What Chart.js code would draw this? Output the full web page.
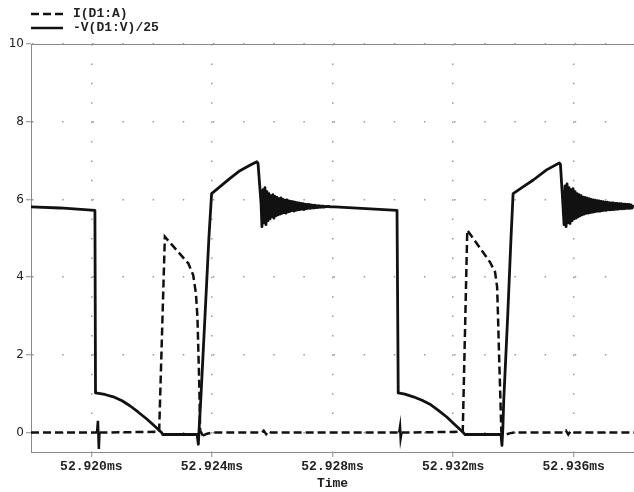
<!DOCTYPE html>
<html>
<head>
<meta charset="utf-8">
<script src="https://cdn.jsdelivr.net/npm/chart.js@4.4.0/dist/chart.umd.min.js"></script>
<style>
  html, body { margin: 0; padding: 0; background: #fff; }
  #wrap { width: 634px; height: 492px; }
</style>
</head>
<body>
<div id="wrap"><canvas id="scopeChart" width="634" height="492"></canvas></div>
<script>
// time axis is in microseconds, labelled in ms
const xTicks = [52920, 52924, 52928, 52932, 52936];
const xTickLabels = ['52.920ms', '52.924ms', '52.928ms', '52.932ms', '52.936ms'];
const yTicks = [0, 2, 4, 6, 8, 10];

// I(D1:A) - dashed trace
const currentTimes = [52918.00, 52920.19, 52920.22, 52920.25, 52920.27, 52922.25, 52922.44, 52923.22, 52923.38, 52923.47,
  52923.52, 52923.55, 52923.58, 52923.61, 52923.70, 52923.84, 52924.00, 52925.66, 52925.72, 52925.80,
  52925.88, 52925.96, 52930.21, 52930.24, 52930.26, 52930.29, 52932.32, 52932.47, 52933.22, 52933.39,
  52933.46, 52933.49, 52933.52, 52933.57, 52933.60, 52933.71, 52933.87, 52934.02, 52935.66, 52935.74,
  52935.82, 52935.90, 52935.98, 52938.00];
const currentValues = [0, 0, 0.3, -0.42, 0, 0.02, 5.04, 4.35, 4.05, 3.58,
  2.98, 2.12, 1.27, 0.05, -0.08, -0.03, 0, 0, 0.05, -0.04,
  0.04, 0, 0, 0.15, -0.14, 0, 0.02, 5.21, 4.39, 4.14,
  3.75, 2.98, 2.12, 0.83, 0.02, -0.06, -0.02, 0, 0, 0.05,
  -0.05, 0.04, 0, 0];

// -V(D1:V)/25 - solid trace, first part up to the first ringing
const voltTimesA = [52918.00, 52918.96, 52920.12, 52920.14, 52920.45, 52920.73, 52921.02, 52921.28, 52921.55, 52921.84,
  52922.08, 52922.33, 52922.37, 52923.51, 52923.55, 52923.58, 52923.63, 52923.77, 52923.90, 52923.99,
  52924.27, 52924.60, 52924.93, 52925.26, 52925.49, 52925.53, 52925.63];
const voltValuesA = [5.81, 5.78, 5.72, 1.02, 0.98, 0.92, 0.82, 0.69, 0.53, 0.35,
  0.18, 0.0, -0.05, -0.05, -0.3, 0.15, 0.83, 2.98, 5.0, 6.15,
  6.33, 6.54, 6.74, 6.88, 6.97, 6.93, 5.9];
// between the two ringings
const voltTimesB = [52928.08, 52930.14, 52930.18, 52930.40, 52930.68, 52930.97, 52931.23, 52931.50, 52931.79, 52932.06,
  52932.34, 52932.39, 52933.59, 52933.62, 52933.65, 52933.68, 52933.81, 52933.92, 52933.99, 52934.33,
  52934.66, 52935.10, 52935.52, 52935.56, 52935.64];
const voltValuesB = [5.81, 5.72, 1.02, 0.99, 0.92, 0.83, 0.73, 0.58, 0.40, 0.20,
  0.0, -0.05, -0.05, -0.33, 0.1, 0.83, 2.98, 5.0, 6.15, 6.33,
  6.50, 6.76, 6.94, 6.90, 5.9];

// ringing after the voltage step, one sample every ringStep us
const ringStep = 0.0332;
const ring1Start = 52925.66;
const ring1 = [5.30, 6.25, 5.40, 6.30, 5.35, 6.20, 5.45, 6.15, 5.50, 6.10,
  5.55, 6.12, 5.52, 6.08, 5.58, 6.05, 5.60, 6.02, 5.62, 6.04,
  5.64, 6.00, 5.66, 5.98, 5.65, 5.99, 5.68, 5.96, 5.69, 5.95,
  5.71, 5.94, 5.70, 5.93, 5.72, 5.92, 5.73, 5.91, 5.74, 5.90,
  5.75, 5.89, 5.74, 5.88, 5.76, 5.87, 5.77, 5.87, 5.77, 5.86,
  5.78, 5.85, 5.78, 5.85, 5.79, 5.84, 5.79, 5.84, 5.80, 5.83,
  5.80, 5.83, 5.80, 5.82, 5.81, 5.82, 5.81, 5.82, 5.81, 5.81];
const ring2Start = 52935.68;
const ring2 = [5.35, 6.35, 5.30, 6.40, 5.40, 6.30, 5.38, 6.25, 5.45, 6.28,
  5.50, 6.20, 5.52, 6.15, 5.55, 6.12, 5.58, 6.10, 5.60, 6.06,
  5.62, 6.05, 5.64, 6.03, 5.65, 6.02, 5.66, 6.00, 5.67, 5.99,
  5.68, 5.98, 5.69, 5.97, 5.70, 5.96, 5.70, 5.95, 5.71, 5.94,
  5.72, 5.93, 5.72, 5.93, 5.73, 5.92, 5.73, 5.91, 5.74, 5.91,
  5.74, 5.90, 5.75, 5.90, 5.75, 5.89, 5.76, 5.89, 5.76, 5.88,
  5.76, 5.88, 5.77, 5.87, 5.77, 5.87, 5.77, 5.86, 5.78, 5.86];

const toPoints = (ts, vs) => ts.map((t, i) => ({ x: t, y: vs[i] }));
const ringPoints = (start, vs) => vs.map((v, i) => ({ x: start + i * ringStep, y: v }));

const currentData = toPoints(currentTimes, currentValues);
const voltageData = [].concat(
  toPoints(voltTimesA, voltValuesA),
  ringPoints(ring1Start, ring1),
  toPoints(voltTimesB, voltValuesB),
  ringPoints(ring2Start, ring2)
);

const monoFont = { family: '"Liberation Mono", "Courier New", monospace', size: 13, weight: 'bold' };
const currentDash = [8, 4];

// short glitches around zero show as solid strokes on the scope plot
const glitchDash = c => {
  const y0 = c.p0.parsed.y, y1 = c.p1.parsed.y;
  const nearZero = Math.abs(y0) < 0.5 && Math.abs(y1) < 0.5;
  return nearZero && Math.abs(y1 - y0) > 0.1 ? [] : currentDash;
};

// top frame line + stacked legend in the corner
const scopeFrame = {
  id: 'scopeFrame',
  afterDraw(chart) {
    const { ctx, chartArea } = chart;
    ctx.save();
    ctx.strokeStyle = '#8a8a8a';
    ctx.lineWidth = 1;
    ctx.beginPath();
    ctx.moveTo(chartArea.left, chartArea.top + 0.5);
    ctx.lineTo(chartArea.right, chartArea.top + 0.5);
    ctx.stroke();

    chart.data.datasets.forEach((ds, i) => {
      const y = 14 + i * 14;
      ctx.strokeStyle = '#111';
      ctx.lineWidth = 2.5;
      ctx.setLineDash(ds.borderDash || []);
      ctx.beginPath();
      ctx.moveTo(chartArea.left, y);
      ctx.lineTo(chartArea.left + 32, y);
      ctx.stroke();
      ctx.setLineDash([]);
      ctx.fillStyle = '#222';
      ctx.font = 'bold 13px "Liberation Mono", monospace';
      ctx.textBaseline = 'middle';
      ctx.fillText(ds.label, chartArea.left + 42, y);
    });
    ctx.restore();
  }
};

var ctx = document.getElementById('scopeChart');
var scopeChart = new Chart(ctx, {
  type: 'line',
  data: {
    datasets: [{
      label: 'I(D1:A)',
      data: currentData,
      borderColor: '#111',
      borderWidth: 2.5,
      borderDash: currentDash,
      segment: { borderDash: glitchDash },
      pointRadius: 0,
      fill: false
    }, {
      label: '-V(D1:V)/25',
      data: voltageData,
      borderColor: '#111',
      borderWidth: 2.8,
      borderJoinStyle: 'round',
      pointRadius: 0,
      fill: false
    }]
  },
  options: {
    responsive: false,
    animation: false,
    layout: { padding: { top: 44, right: 0, left: 0, bottom: 0 } },
    plugins: {
      legend: { display: false },
      tooltip: { enabled: false }
    },
    elements: { line: { tension: 0 } },
    scales: {
      x: {
        type: 'linear',
        min: 52918,
        max: 52938,
        afterBuildTicks: s => { s.ticks = xTicks.map(v => ({ value: v })); },
        afterFit: s => { s.height = 40; },
        ticks: {
          callback: (v, i) => xTickLabels[i],
          font: monoFont,
          color: '#222',
          padding: 2,
          maxRotation: 0,
          autoSkip: false
        },
        grid: { color: '#999', lineWidth: 1.5, tickColor: '#8a8a8a', tickLength: 5, tickWidth: 1 },
        border: { color: '#8a8a8a', width: 1, dash: [1.5, 17.9] },
        title: { display: true, text: 'Time', font: monoFont, color: '#222', padding: { top: 0, bottom: 0 } }
      },
      y: {
        min: -0.5,
        max: 10,
        afterBuildTicks: s => { s.ticks = yTicks.map(v => ({ value: v })); },
        afterFit: s => { s.width = 31; },
        ticks: {
          font: { family: '"DejaVu Sans", sans-serif', size: 12 },
          color: '#222',
          padding: 2
        },
        grid: { color: '#999', lineWidth: 1.5, tickColor: '#8a8a8a', tickLength: 5, tickWidth: 1 },
        border: { color: '#8a8a8a', width: 1, dash: [1.5, 28.65] }
      }
    }
  },
  plugins: [scopeFrame]
});
</script>
</body>
</html>
